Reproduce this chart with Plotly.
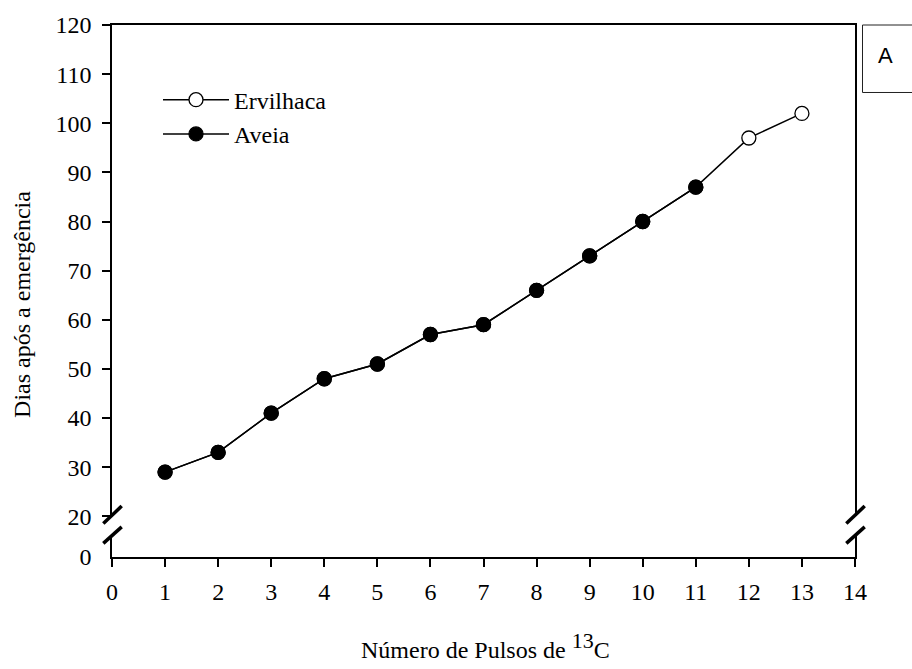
import plotly.graph_objects as go

# Pulse number and days after emergence for each species
pulsos = [1, 2, 3, 4, 5, 6, 7, 8, 9, 10, 11, 12, 13]
ervilhaca = [29, 33, 41, 48, 51, 57, 59, 66, 73, 80, 87, 97, 102]
pulsos_aveia = [1, 2, 3, 4, 5, 6, 7, 8, 9, 10, 11]
aveia = [29, 33, 41, 48, 51, 57, 59, 66, 73, 80, 87]

x_ticks = list(range(0, 15))
y_ticks_upper = list(range(20, 121, 10))
y_ticks_lower = [0]

SERIF = "Liberation Serif, Times New Roman, serif"
FS = 24
LW = 1.5

fig = go.Figure()

fig.add_trace(go.Scatter(
    x=pulsos, y=ervilhaca, name="Ervilhaca", mode="lines+markers",
    line=dict(color="black", width=LW),
    marker=dict(symbol="circle", size=14, color="white",
                line=dict(color="black", width=1.3)),
    xaxis="x", yaxis="y",
))
fig.add_trace(go.Scatter(
    x=pulsos_aveia, y=aveia, name="Aveia", mode="lines+markers",
    line=dict(color="black", width=LW),
    marker=dict(symbol="circle", size=14, color="black",
                line=dict(color="black", width=1.3)),
    xaxis="x", yaxis="y",
))

# px -> paper helpers for the plotting box (x: 112..855, y: 557..21)
L, R, B, T = 112, 855, 557, 21
W, H = R - L, B - T


def px(xp):
    return (xp - L) / W


def py(yp):
    return (B - yp) / H


upper_bottom = py(516)
lower_top = py(535)
lower_max = (557 - 535) / (516 - 21) * 100  # same scale as upper part

axis_common = dict(
    showgrid=False, zeroline=False, linecolor="black", linewidth=LW,
    tickcolor="black", tickwidth=LW, ticklen=8,
    tickfont=dict(family=SERIF, size=FS, color="black"),
)

fig.update_layout(
    width=912, height=669,
    margin=dict(l=L, r=912 - R, t=T, b=669 - B),
    paper_bgcolor="white", plot_bgcolor="white",
    showlegend=True,
    legend=dict(
        x=px(158), y=py(74), xanchor="left", yanchor="top",
        bgcolor="rgba(0,0,0,0)", borderwidth=0,
        font=dict(family=SERIF, size=FS, color="black"),
        itemwidth=66, tracegroupgap=0,
    ),
    xaxis=dict(
        axis_common, range=[0, 14], domain=[0, 1], anchor="y", side="top",
        showline=True, showticklabels=False, ticks="", mirror=False,
    ),
    yaxis=dict(
        axis_common, range=[20, 120], domain=[upper_bottom, 1], anchor="x",
        tickvals=y_ticks_upper, ticks="outside", showline=True, mirror=True,
        ticklabelstandoff=6,
    ),
    xaxis2=dict(
        axis_common, range=[0, 14], domain=[0, 1], anchor="y2", side="bottom",
        tickvals=x_ticks, ticks="outside", showline=True, mirror=False,
        matches="x", ticklabelstandoff=4,
    ),
    yaxis2=dict(
        axis_common, range=[0, lower_max], domain=[0, lower_top], anchor="x2",
        tickvals=y_ticks_lower, ticks="", showline=True, mirror=True,
        ticklabelstandoff=14,
    ),
)

# keep the lower panel's axes alive with an invisible empty trace
fig.add_trace(go.Scatter(x=[None], y=[None], xaxis="x2", yaxis="y2",
                         showlegend=False, hoverinfo="skip"))

# axis-break slashes on both sides
shapes = []
for xc in (L, R):
    for (ya, yb) in ((523.3, 505.7), (543.3, 526.7)):
        shapes.append(dict(
            type="line", xref="paper", yref="paper",
            x0=px(xc - 8.7), y0=py(ya), x1=px(xc + 9.7), y1=py(yb),
            line=dict(color="black", width=3.5),
        ))
# panel label box
shapes.append(dict(
    type="rect", xref="paper", yref="paper",
    x0=px(862.5), x1=px(930), y0=py(89), y1=py(21),
    line=dict(color="#222222", width=1), fillcolor="white",
))
fig.update_layout(shapes=shapes)

fig.add_annotation(
    text="A", xref="paper", yref="paper", x=px(886), y=py(52),
    xanchor="center", yanchor="middle", showarrow=False,
    font=dict(family="Liberation Sans, Arial, sans-serif", size=22, color="black"),
)
fig.add_annotation(
    text="Dias após a emergência", xref="paper", yref="paper",
    x=px(22), y=py(303), textangle=-90, xanchor="center", yanchor="middle",
    showarrow=False, font=dict(family=SERIF, size=FS, color="black"),
)
fig.add_annotation(
    text="Número de Pulsos de <sup><span style='font-size:22px'>13</span></sup>C",
    xref="paper", yref="paper",
    x=px(485), y=py(646), xanchor="center", yanchor="middle",
    showarrow=False, font=dict(family=SERIF, size=FS, color="black"),
)

fig.write_html("out.html")
